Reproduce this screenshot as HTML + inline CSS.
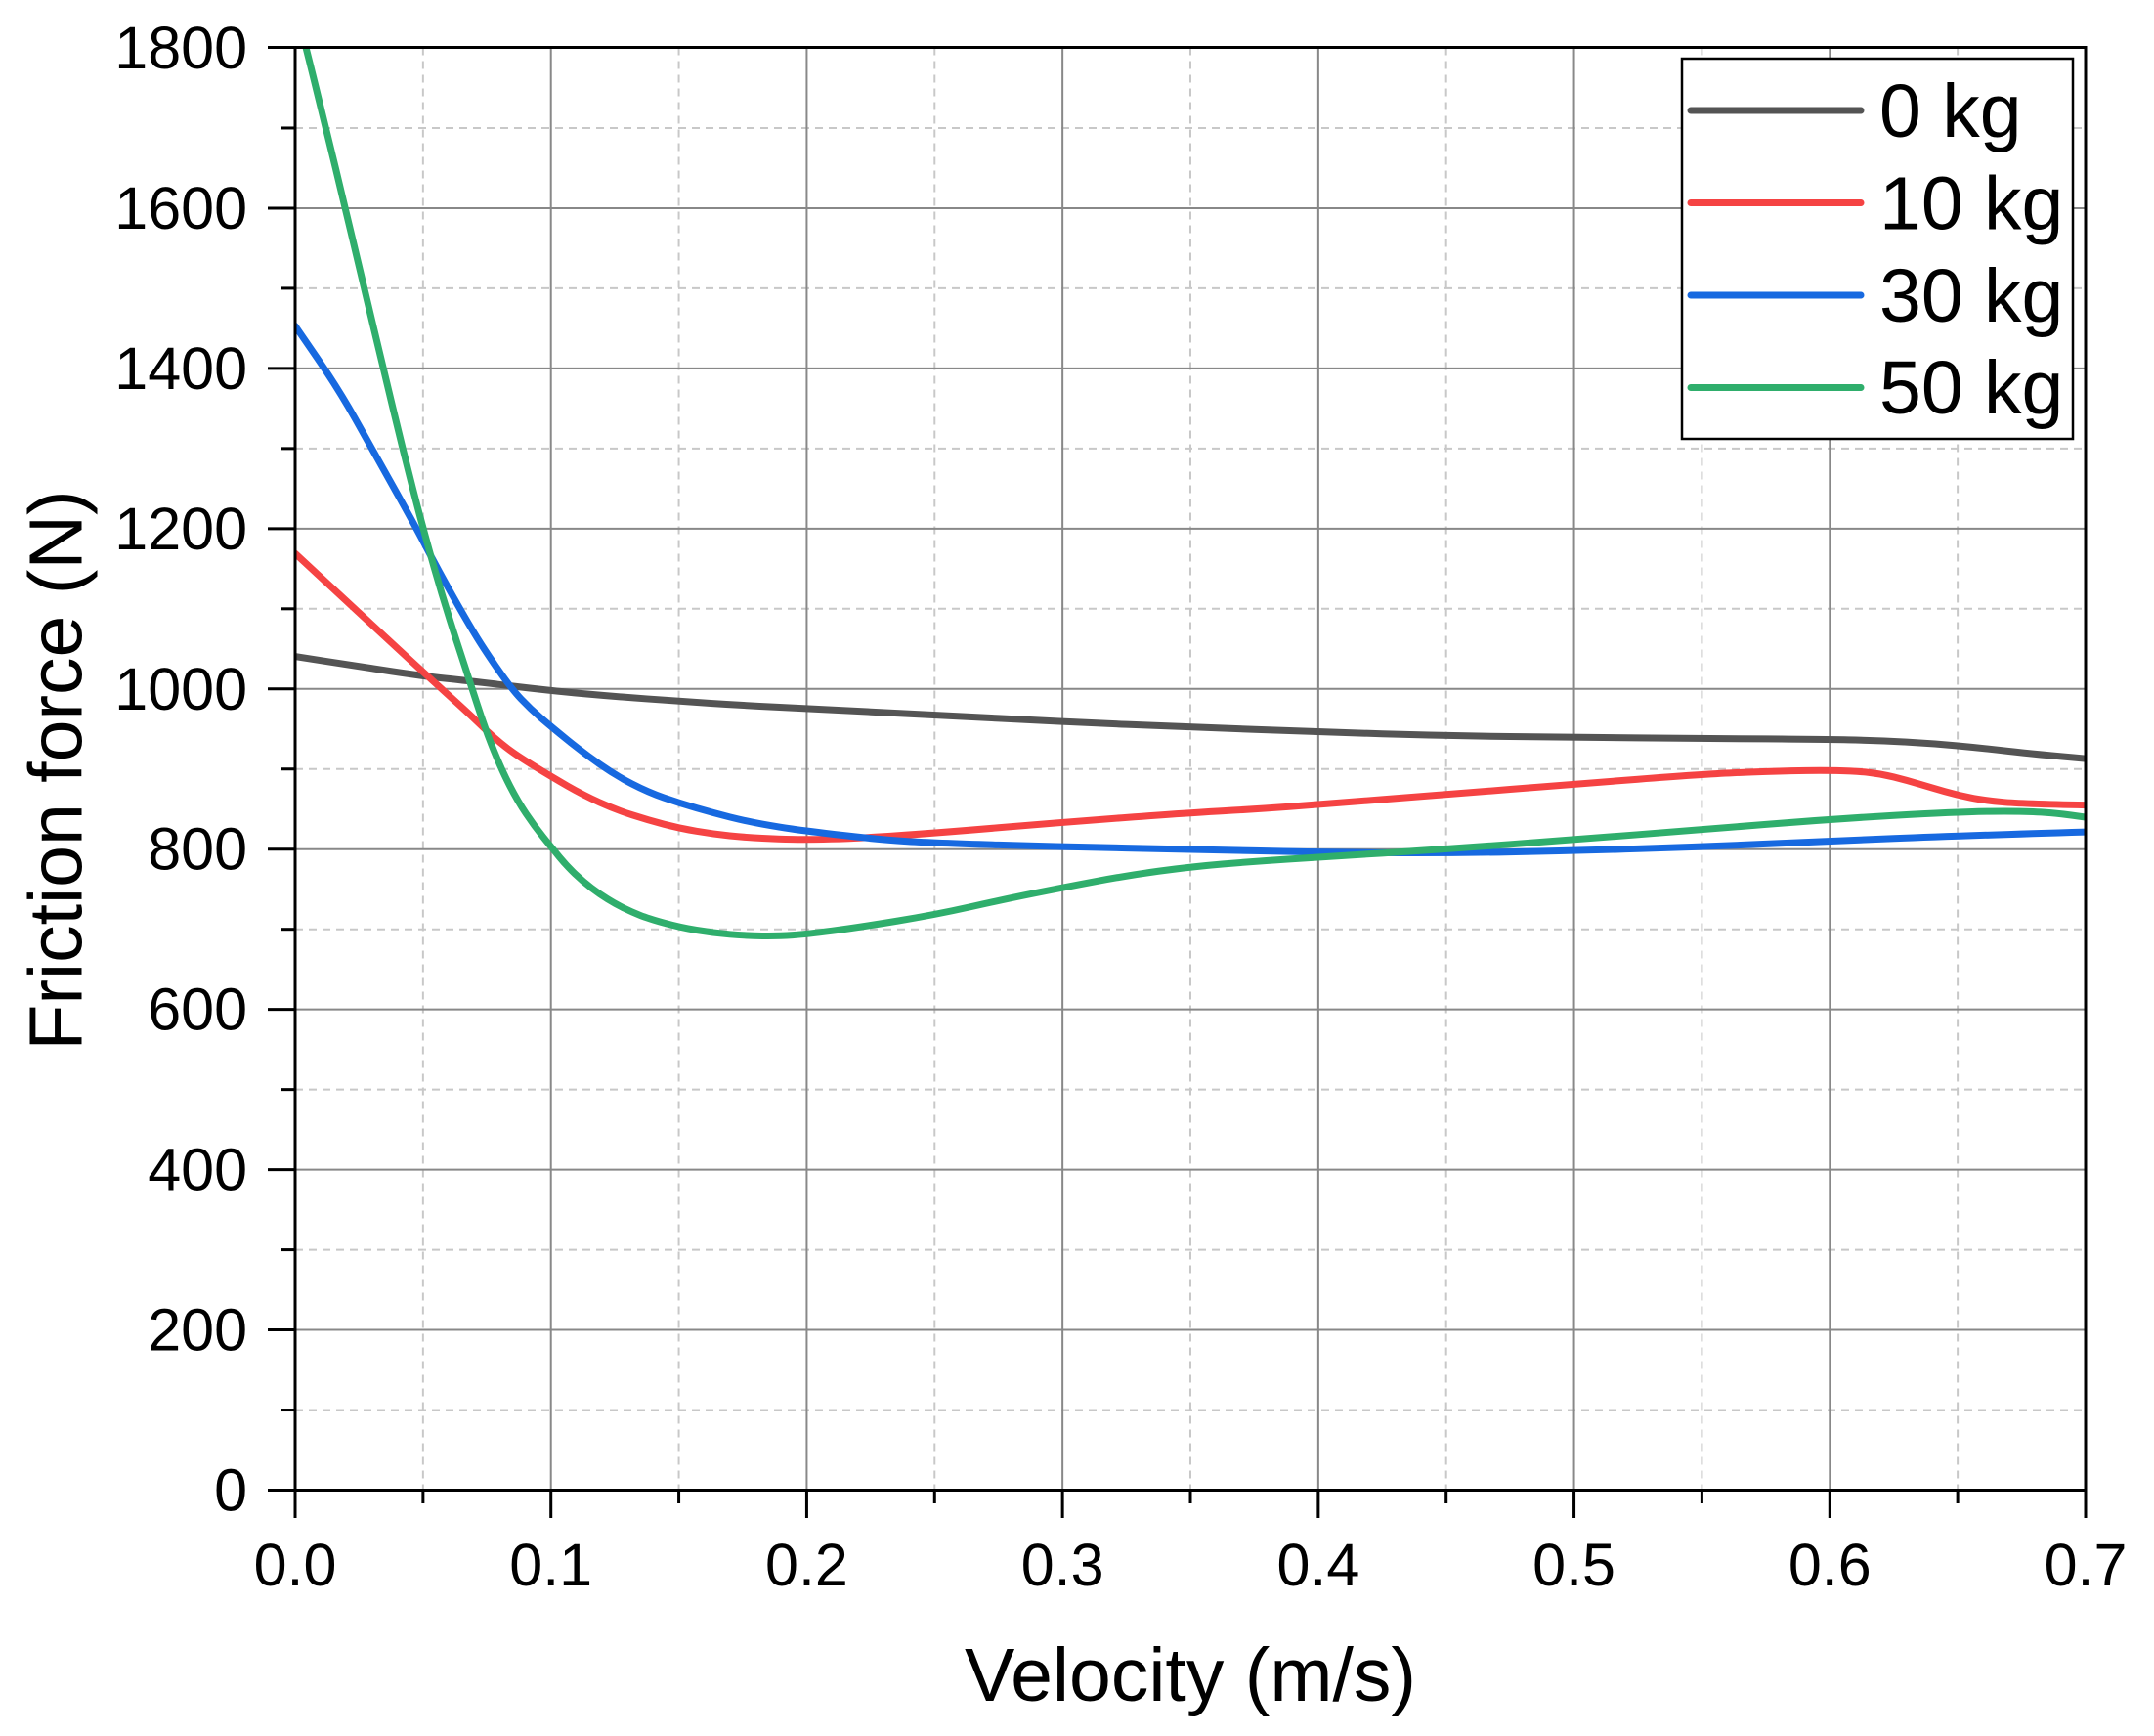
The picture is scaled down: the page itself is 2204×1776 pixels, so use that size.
<!DOCTYPE html>
<html>
<head>
<meta charset="utf-8">
<style>
html,body{margin:0;padding:0;background:#fff;}
svg{display:block;}
text{font-family:"Liberation Sans",Arial,sans-serif;fill:#000;}
</style>
</head>
<body>
<svg xmlns="http://www.w3.org/2000/svg" width="2204" height="1776" viewBox="0 0 2204 1776">
<rect x="0" y="0" width="2204" height="1776" fill="#fff"/>
<defs>
<clipPath id="pc"><rect x="302" y="48.5" width="1832" height="1476"/></clipPath>
</defs>

<!-- minor grid (dashed) -->
<g stroke="#c8c8c8" stroke-width="2" stroke-dasharray="8,6" fill="none">
<line x1="432.86" y1="48.5" x2="432.86" y2="1524.5"/>
<line x1="694.57" y1="48.5" x2="694.57" y2="1524.5"/>
<line x1="956.28" y1="48.5" x2="956.28" y2="1524.5"/>
<line x1="1217.99" y1="48.5" x2="1217.99" y2="1524.5"/>
<line x1="1479.70" y1="48.5" x2="1479.70" y2="1524.5"/>
<line x1="1741.41" y1="48.5" x2="1741.41" y2="1524.5"/>
<line x1="2003.12" y1="48.5" x2="2003.12" y2="1524.5"/>
<line x1="302" y1="1442.53" x2="2134" y2="1442.53"/>
<line x1="302" y1="1278.58" x2="2134" y2="1278.58"/>
<line x1="302" y1="1114.64" x2="2134" y2="1114.64"/>
<line x1="302" y1="950.69" x2="2134" y2="950.69"/>
<line x1="302" y1="786.75" x2="2134" y2="786.75"/>
<line x1="302" y1="622.81" x2="2134" y2="622.81"/>
<line x1="302" y1="458.86" x2="2134" y2="458.86"/>
<line x1="302" y1="294.92" x2="2134" y2="294.92"/>
<line x1="302" y1="130.97" x2="2134" y2="130.97"/>
</g>

<!-- major grid -->
<g stroke="#888888" stroke-width="2" fill="none">
<line x1="563.71" y1="48.5" x2="563.71" y2="1524.5"/>
<line x1="825.43" y1="48.5" x2="825.43" y2="1524.5"/>
<line x1="1087.14" y1="48.5" x2="1087.14" y2="1524.5"/>
<line x1="1348.86" y1="48.5" x2="1348.86" y2="1524.5"/>
<line x1="1610.57" y1="48.5" x2="1610.57" y2="1524.5"/>
<line x1="1872.28" y1="48.5" x2="1872.28" y2="1524.5"/>
<line x1="302" y1="1360.56" x2="2134" y2="1360.56"/>
<line x1="302" y1="1196.61" x2="2134" y2="1196.61"/>
<line x1="302" y1="1032.67" x2="2134" y2="1032.67"/>
<line x1="302" y1="868.72" x2="2134" y2="868.72"/>
<line x1="302" y1="704.78" x2="2134" y2="704.78"/>
<line x1="302" y1="540.83" x2="2134" y2="540.83"/>
<line x1="302" y1="376.89" x2="2134" y2="376.89"/>
<line x1="302" y1="212.94" x2="2134" y2="212.94"/>
</g>

<!-- curves -->
<g clip-path="url(#pc)">
<g transform="translate(302,1524.5) scale(2.617143,-0.819722)" fill="none" stroke-width="7" stroke-linejoin="round" stroke-linecap="round">
<path vector-effect="non-scaling-stroke" stroke="#545454" d="M0,1040.5 L12.5,1034.25 Q25,1028 37.5,1022 Q50,1016 59,1013 Q68,1010 84,1003.85 Q100,997.7 112.5,994.1 Q125,990.5 137.5,987.6 Q150,984.7 162.5,982.1 Q175,979.5 187.5,977.4 Q200,975.3 225,971.4 Q250,967.5 275,963.25 Q300,959 325,955.7 Q350,952.4 375,949.35 Q400,946.3 425,943.9 Q450,941.5 475,940.55 Q500,939.6 525,938.9 Q550,938.2 575,937.6 Q600,937 610,936.25 Q620,935.5 630,933.75 Q640,932 650,929 Q660,926 670,922.25 Q680,918.5 700,913"/>
<path vector-effect="non-scaling-stroke" stroke="#F54343" d="M0,1169 L12.5,1132 Q25,1095 37.5,1058 Q50,1021 59,995 Q68,969 71.2,959 Q74.4,949 77.6,940 Q80.8,931 83.95,923.5 Q87.1,916 93.75,903 Q100.4,890 106.5,878.8 Q112.6,867.6 118.95,858.45 Q125.3,849.3 131.65,842.8 Q138,836.3 144.15,831.15 Q150.3,826 156.9,822.4 Q163.5,818.8 169.9,816.75 Q176.3,814.7 182.65,813.7 Q189,812.7 194.5,812.3 Q200,811.9 209.5,812.7 Q219,813.5 234.5,816.75 Q250,820 275,826.75 Q300,833.5 325,839.5 Q350,845.5 363,847.75 Q376,850 388,852.85 Q400,855.7 425,862 Q450,868.3 475,874.65 Q500,881 525,887.25 Q550,893.5 562.5,895.25 Q575,897 585,897.75 Q595,898.5 602.5,898 Q610,897.5 615,895.75 Q620,894 625,890 Q630,886 635,881.25 Q640,876.5 645,872 Q650,867.5 655,864.25 Q660,861 667.5,858.75 Q675,856.5 700,855"/>
<path vector-effect="non-scaling-stroke" stroke="#1769E0" d="M0,1453 L8.5,1413.5 Q17,1374 23.5,1337 Q30,1300 38.5,1251.5 Q47,1203 50,1184.5 Q53,1166 56.5,1145.5 Q60,1125 64,1102.5 Q68,1080 71.2,1063.5 Q74.4,1047 79.5,1023.5 Q84.6,1000 88.3,987.5 Q92,975 96.2,963.5 Q100.4,952 106.5,936.2 Q112.6,920.4 118.95,906.2 Q125.3,892 131.65,881.5 Q138,871 144.15,864.2 Q150.3,857.4 156.9,851.3 Q163.5,845.2 169.9,840.1 Q176.3,835 182.65,831.35 Q189,827.7 194.5,825.1 Q200,822.5 214.5,817.15 Q229,811.8 239.5,809.75 Q250,807.7 275,805.25 Q300,802.8 325,801.4 Q350,800 375,798 Q400,796 425,795.5 Q450,795 475,796.5 Q500,798 525,800.5 Q550,803 575,806.5 Q600,810 625,813.35 Q650,816.7 700,821.5"/>
<path vector-effect="non-scaling-stroke" stroke="#2FAE6C" d="M0,1852 L2.15,1826 Q4.3,1800 8.15,1750 Q12,1700 15.8,1650 Q19.6,1600 23.3,1550 Q27,1500 30.75,1450 Q34.5,1400 38.25,1350 Q42,1300 46,1250 Q50,1200 54.25,1152.5 Q58.5,1105 63.25,1058.5 Q68,1012 71.2,980.5 Q74.4,949 77.6,923.75 Q80.8,898.5 83.95,879 Q87.1,859.5 90.3,844.25 Q93.5,829 96.95,815.25 Q100.4,801.5 103.3,790.25 Q106.2,779 109.4,769.25 Q112.6,759.5 115.8,751.75 Q119,744 122.15,737.75 Q125.3,731.5 128.5,726.5 Q131.7,721.5 134.85,717.5 Q138,713.5 144.15,708 Q150.3,702.5 156.9,699 Q163.5,695.5 169.9,693.75 Q176.3,692 182.65,691.75 Q189,691.5 194.5,692.75 Q200,694 209.7,698 Q219.4,702 234.7,710 Q250,718 264,728 Q278,738 289,745 Q300,752 312.5,759.5 Q325,767 337.5,772.5 Q350,778 363,781.5 Q376,785 388,787.5 Q400,790 425,795 Q450,800 475,806 Q500,812 525,818.2 Q550,824.4 575,830.9 Q600,837.4 625,842.05 Q650,846.7 662.5,847.15 Q675,847.6 682.5,846.15 Q690,844.7 700,839.8"/>
</g>
</g>

<!-- axes frame -->
<rect x="302" y="48.5" width="1832" height="1476" fill="none" stroke="#000" stroke-width="3"/>

<!-- y ticks -->
<g stroke="#000" stroke-width="3">
<line x1="274" y1="1524.5" x2="302" y2="1524.5"/>
<line x1="274" y1="1360.56" x2="302" y2="1360.56"/>
<line x1="274" y1="1196.61" x2="302" y2="1196.61"/>
<line x1="274" y1="1032.67" x2="302" y2="1032.67"/>
<line x1="274" y1="868.72" x2="302" y2="868.72"/>
<line x1="274" y1="704.78" x2="302" y2="704.78"/>
<line x1="274" y1="540.83" x2="302" y2="540.83"/>
<line x1="274" y1="376.89" x2="302" y2="376.89"/>
<line x1="274" y1="212.94" x2="302" y2="212.94"/>
<line x1="274" y1="48.5" x2="302" y2="48.5"/>
<line x1="288" y1="1442.53" x2="302" y2="1442.53"/>
<line x1="288" y1="1278.58" x2="302" y2="1278.58"/>
<line x1="288" y1="1114.64" x2="302" y2="1114.64"/>
<line x1="288" y1="950.69" x2="302" y2="950.69"/>
<line x1="288" y1="786.75" x2="302" y2="786.75"/>
<line x1="288" y1="622.81" x2="302" y2="622.81"/>
<line x1="288" y1="458.86" x2="302" y2="458.86"/>
<line x1="288" y1="294.92" x2="302" y2="294.92"/>
<line x1="288" y1="130.97" x2="302" y2="130.97"/>
</g>
<!-- x ticks -->
<g stroke="#000" stroke-width="3">
<line x1="302" y1="1524.5" x2="302" y2="1553"/>
<line x1="563.71" y1="1524.5" x2="563.71" y2="1553"/>
<line x1="825.43" y1="1524.5" x2="825.43" y2="1553"/>
<line x1="1087.14" y1="1524.5" x2="1087.14" y2="1553"/>
<line x1="1348.86" y1="1524.5" x2="1348.86" y2="1553"/>
<line x1="1610.57" y1="1524.5" x2="1610.57" y2="1553"/>
<line x1="1872.28" y1="1524.5" x2="1872.28" y2="1553"/>
<line x1="2134" y1="1524.5" x2="2134" y2="1553"/>
<line x1="432.86" y1="1524.5" x2="432.86" y2="1538"/>
<line x1="694.57" y1="1524.5" x2="694.57" y2="1538"/>
<line x1="956.28" y1="1524.5" x2="956.28" y2="1538"/>
<line x1="1217.99" y1="1524.5" x2="1217.99" y2="1538"/>
<line x1="1479.70" y1="1524.5" x2="1479.70" y2="1538"/>
<line x1="1741.41" y1="1524.5" x2="1741.41" y2="1538"/>
<line x1="2003.12" y1="1524.5" x2="2003.12" y2="1538"/>
</g>

<!-- y tick labels -->
<g font-size="61" text-anchor="end">
<text x="253" y="1545.5">0</text>
<text x="253" y="1381.6">200</text>
<text x="253" y="1217.6">400</text>
<text x="253" y="1053.7">600</text>
<text x="253" y="889.7">800</text>
<text x="253" y="725.8">1000</text>
<text x="253" y="561.8">1200</text>
<text x="253" y="397.9">1400</text>
<text x="253" y="233.9">1600</text>
<text x="253" y="70">1800</text>
</g>
<!-- x tick labels -->
<g font-size="61" text-anchor="middle">
<text x="302" y="1622">0.0</text>
<text x="563.71" y="1622">0.1</text>
<text x="825.43" y="1622">0.2</text>
<text x="1087.14" y="1622">0.3</text>
<text x="1348.86" y="1622">0.4</text>
<text x="1610.57" y="1622">0.5</text>
<text x="1872.28" y="1622">0.6</text>
<text x="2134" y="1622">0.7</text>
</g>

<!-- axis titles -->
<text x="1218" y="1740" font-size="77" text-anchor="middle">Velocity (m/s)</text>
<text transform="translate(83.5,788) rotate(-90)" font-size="77" text-anchor="middle">Friction force (N)</text>

<!-- legend -->
<rect x="1721" y="60" width="400" height="389" fill="#fff" stroke="#000" stroke-width="2.5"/>
<g stroke-width="7" stroke-linecap="round">
<line x1="1730" y1="113" x2="1904" y2="113" stroke="#545454"/>
<line x1="1730" y1="207.5" x2="1904" y2="207.5" stroke="#F54343"/>
<line x1="1730" y1="302" x2="1904" y2="302" stroke="#1769E0"/>
<line x1="1730" y1="396.5" x2="1904" y2="396.5" stroke="#2FAE6C"/>
</g>
<g font-size="77">
<text x="1923" y="140">0 kg</text>
<text x="1923" y="234.5">10 kg</text>
<text x="1923" y="329">30 kg</text>
<text x="1923" y="423">50 kg</text>
</g>
</svg>
</body>
</html>
